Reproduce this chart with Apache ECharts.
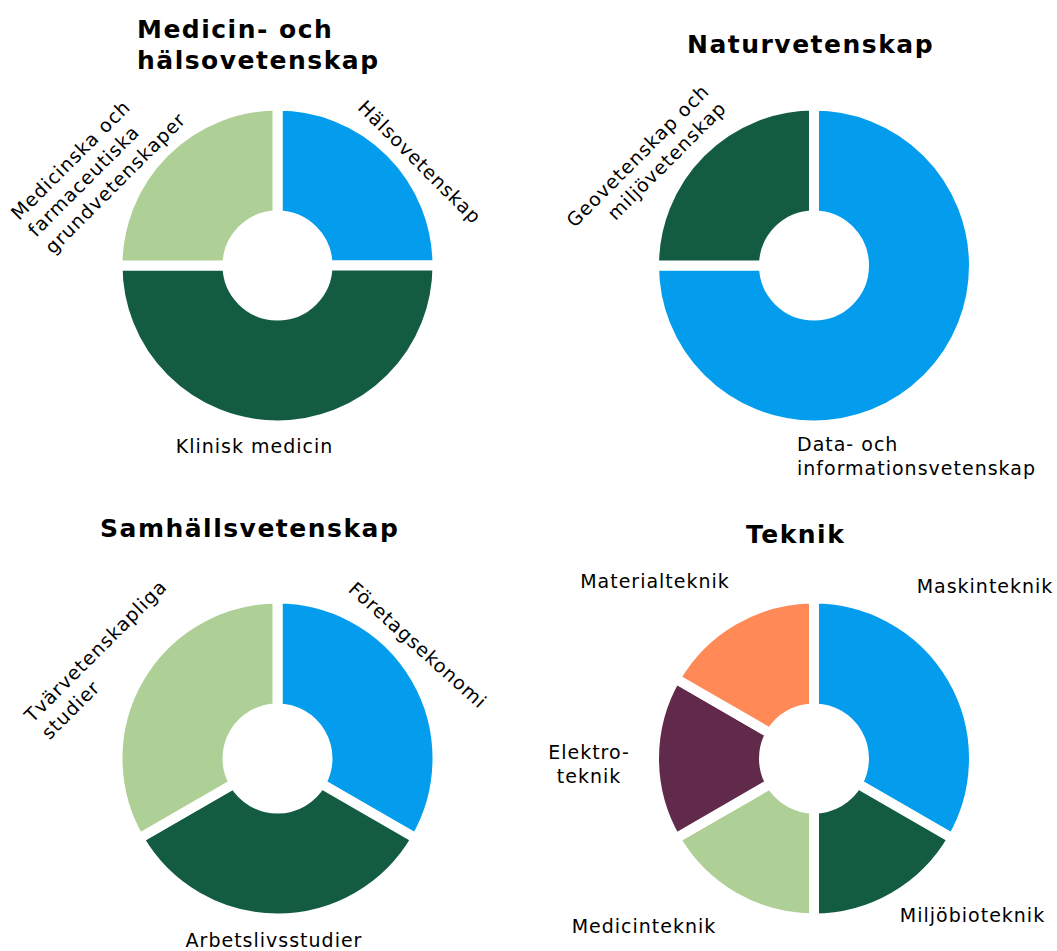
<!DOCTYPE html>
<html>
<head>
<meta charset="utf-8">
<script src="https://cdn.jsdelivr.net/npm/echarts@6/dist/echarts.min.js"></script>
<style>
html, body { margin: 0; padding: 0; background: #fff; }
#chart { width: 1057px; height: 951px; }
#chart text { letter-spacing: 1px; }
#chart text[style*="bold"] { letter-spacing: 1.5px; }
</style>
</head>
<body>
<div id="chart"></div>
<script>
// shares (quarters, thirds, sixths)
var medCategories = ['Hälsovetenskap', 'Klinisk medicin', 'Medicinska och\nfarmaceutiska\ngrundvetenskaper'];
var medValues = [1, 2, 1];
var natCategories = ['Data- och\ninformationsvetenskap', 'Geovetenskap och\nmiljövetenskap'];
var natValues = [3, 1];
var samCategories = ['Företagsekonomi', 'Arbetslivsstudier', 'Tvärvetenskapliga\nstudier'];
var samValues = [1, 1, 1];
var tekCategories = ['Maskinteknik', 'Miljöbioteknik', 'Medicinteknik', 'Elektro-\nteknik', 'Materialteknik'];
var tekValues = [2, 1, 1, 1, 1];

var BLUE = '#049dee', DARK = '#135c42', LIGHT = '#aed096', PURPLE = '#61294a', ORANGE = '#ff8a57';
var FONT = 'DejaVu Sans';

var chart = echarts.init(document.getElementById('chart'), null, { renderer: 'svg' });

// label anchor: [x, y, rotate, align]
function donut(center, names, values, colors, layout) {
	return {
		type: 'pie',
		center: center,
		radius: [50, 160],
		startAngle: 90,
		clockwise: true,
		avoidLabelOverlap: false,
		silent: true,
		itemStyle: { borderColor: '#fff', borderWidth: 10 },
		label: {
			show: true,
			position: 'outside',
			formatter: '{b}',
			color: '#000',
			fontFamily: FONT,
			fontSize: 19,
			lineHeight: 24
		},
		labelLine: { show: false },
		labelLayout: function (params) {
			var l = layout[params.dataIndex];
			return { x: l[0], y: l[1], rotate: l[2], align: l[3], verticalAlign: 'middle' };
		},
		data: names.map(function (n, i) {
			return { name: n, value: values[i], itemStyle: { color: colors[i] } };
		})
	};
}

var titleStyle = { color: '#000', fontFamily: FONT, fontSize: 25, fontWeight: 'bold', lineHeight: 31 };

var option = {
	animation: false,
	title: [
		{ text: 'Medicin- och\nhälsovetenskap', left: 137, top: 14, padding: 0, textStyle: titleStyle },
		{ text: 'Naturvetenskap', left: 687, top: 29, padding: 0, textStyle: titleStyle },
		{ text: 'Samhällsvetenskap', left: 100, top: 513, padding: 0, textStyle: titleStyle },
		{ text: 'Teknik', left: 746, top: 519, padding: 0, textStyle: titleStyle }
	],
	series: [
		donut([277.5, 265.5], medCategories, medValues, [BLUE, DARK, LIGHT], [
			[420, 162, -45, 'center'],
			[254.5, 446, 0, 'center'],
			[31, 233, 45, 'left']
		]),
		donut([814, 265.5], natCategories, natValues, [BLUE, DARK], [
			[797, 456, 0, 'left'],
			[714, 96, 45, 'right']
		]),
		donut([277.5, 758.5], samCategories, samValues, [BLUE, DARK, LIGHT], [
			[418, 645, -42, 'center'],
			[274, 939.5, 0, 'center'],
			[36, 727, 45, 'left']
		]),
		donut([814, 758.5], tekCategories, tekValues, [BLUE, DARK, LIGHT, PURPLE, ORANGE], [
			[985, 586, 0, 'center'],
			[972.5, 914.5, 0, 'center'],
			[644, 925.5, 0, 'center'],
			[589, 764, 0, 'center'],
			[655, 580.5, 0, 'center']
		])
	]
};

chart.setOption(option);
</script>
</body>
</html>
